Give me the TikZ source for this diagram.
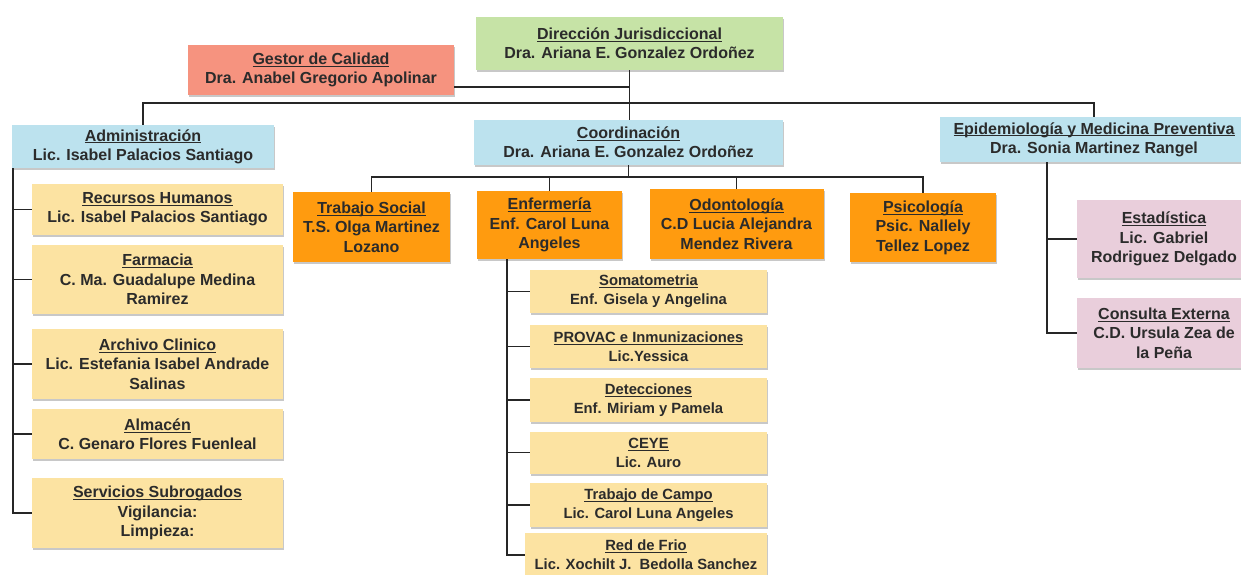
\documentclass[tikz,border=0pt]{standalone}
\usepackage{fontspec}
\setmainfont{Liberation Sans}
\usetikzlibrary{shadows,calc}
\definecolor{cgreen}{HTML}{C6E3A6}
\definecolor{csalmon}{HTML}{F6937F}
\definecolor{cblue}{HTML}{BCE2EE}
\definecolor{cyellow}{HTML}{FCE3A2}
\definecolor{corange}{HTML}{FF9B0F}
\definecolor{cpink}{HTML}{E9CEDB}
\definecolor{ctext}{HTML}{2B2B2B}
\definecolor{cline}{HTML}{262626}
\newcommand\ulin[1]{\leavevmode\setbox0\hbox{#1}\rlap{\rule[-2.3pt]{\wd0}{0.9pt}}\box0}
\tikzset{
  box/.style={rectangle, inner sep=0pt, align=center, text=ctext,
    font=\fontsize{16}{19.3}\selectfont\bfseries,
    drop shadow={shadow xshift=1.2pt, shadow yshift=-2.4pt, opacity=0.3, fill=black!70}},
  sbox/.style={box, font=\fontsize{14.8}{19}\selectfont\bfseries},
  wh/.style 2 args={minimum width=#1pt, minimum height=#2pt},
  conn/.style={draw=cline, line width=1.7pt}
}
\begin{document}
\begin{tikzpicture}[x=1pt,y=-1pt]
\fill[white] (0,0) rectangle (1241,574);
\useasboundingbox (0,0) rectangle (1241,574);
% top level
\node[box, fill=cgreen, wh={307}{53}] (dir) at (629.5,43.5) {\ulin{Dirección Jurisdiccional}\\Dra. Ariana E. Gonzalez Ordoñez};
\node[box, fill=csalmon, wh={266}{50}] (gest) at (321,70) {\ulin{Gestor de Calidad}\\Dra. Anabel Gregorio Apolinar};
% second level
\node[box, fill=cblue, wh={262}{43}] (adm) at (143,146.5) {\ulin{Administración}\\Lic. Isabel Palacios Santiago};
\node[box, fill=cblue, wh={309}{45}] (coord) at (628.5,142.5) {\ulin{Coordinación}\\Dra. Ariana E. Gonzalez Ordoñez};
\node[box, fill=cblue, wh={308}{45}] (epi) at (1094,139.5) {\ulin{Epidemiología y Medicina Preventiva}\\Dra. Sonia Martinez Rangel};
% administration children
\node[box, fill=cyellow, wh={251}{51}] (rh) at (157.5,209.5) {\ulin{Recursos Humanos}\\Lic. Isabel Palacios Santiago};
\node[box, fill=cyellow, wh={251}{69}] (farm) at (157.5,279.5) {\ulin{Farmacia}\\C. Ma. Guadalupe Medina\\Ramirez};
\node[box, fill=cyellow, wh={251}{70}] (arch) at (157.5,364) {\ulin{Archivo Clinico}\\Lic. Estefania Isabel Andrade\\Salinas};
\node[box, fill=cyellow, wh={251}{50}] (alm) at (157.5,434) {\ulin{Almacén}\\C. Genaro Flores Fuenleal};
\node[box, fill=cyellow, wh={251}{70}] (serv) at (157.5,513) {\ulin{Servicios Subrogados}\\Vigilancia:\\Limpieza:};
% coordination children
\node[box, fill=corange, wh={157}{70}] (ts) at (371.5,227) {\ulin{Trabajo Social}\\T.S. Olga Martinez\\Lozano};
\node[box, fill=corange, wh={145}{68}] (enf) at (549.5,225) {\ulin{Enfermería}\\Enf. Carol Luna\\Angeles};
\node[box, fill=corange, wh={174}{70}] (odo) at (736.5,224) {\ulin{Odontología}\\C.D Lucia Alejandra\\Mendez Rivera};
\node[box, fill=corange, wh={146}{69}] (psi) at (923,227.5) {\ulin{Psicología}\\Psic. Nallely\\Tellez Lopez};
% enfermeria children
\node[sbox, fill=cyellow, wh={237}{43}] (soma) at (648.5,291.5) {\ulin{Somatometria}\\Enf. Gisela y Angelina};
\node[sbox, fill=cyellow, wh={237}{43}] (provac) at (648.5,346.5) {\ulin{PROVAC e Inmunizaciones}\\Lic.Yessica};
\node[sbox, fill=cyellow, wh={237}{44}] (detec) at (648.5,400) {\ulin{Detecciones}\\Enf. Miriam y Pamela};
\node[sbox, fill=cyellow, wh={237}{42}] (ceye) at (648.5,452.5) {\ulin{CEYE}\\Lic. Auro};
\node[sbox, fill=cyellow, wh={237}{44}] (campo) at (648.5,505) {\ulin{Trabajo de Campo}\\Lic. Carol Luna Angeles};
\node[sbox, fill=cyellow, wh={242}{44}] (red) at (646,555) {\ulin{Red de Frio}\\Lic. Xochilt J.\ \ Bedolla Sanchez};
% epidemiology children
\node[box, fill=cpink, wh={174}{78}] (est) at (1164,239) {\ulin{Estadística}\\Lic. Gabriel\\Rodriguez Delgado};
\node[box, fill=cpink, wh={174}{70}] (cons) at (1164,333) {\ulin{Consulta Externa}\\C.D. Ursula Zea de\\la Peña};
% connectors: top
\coordinate (bus) at (629,103);
\draw[conn] (dir.south) -- (dir.south |- coord.north);
\draw[conn] ([yshift=-17pt]gest.east) -- ([yshift=-17pt]gest.east -| dir.south);
\draw[conn] (adm.north) |- (bus) -| (epi.north);
% administration
\coordinate (av) at ([xshift=1pt]adm.south west);
\draw[conn] (av) |- (serv.west);
\foreach \n in {rh,farm,arch,alm} \draw[conn] (\n.west) -- (\n.west -| av);
% coordination
\coordinate (cb) at (629,177);
\draw[conn] (coord.south) -- (coord.south |- cb);
\draw[conn] (ts.north) |- (cb) -| (psi.north);
\draw[conn] (enf.north) -- (enf.north |- cb);
\draw[conn] (odo.north) -- (odo.north |- cb);
% enfermeria
\coordinate (ev) at ([xshift=30pt]enf.south west);
\draw[conn] (ev) |- (red.west);
\foreach \n in {soma,provac,detec,ceye,campo} \draw[conn] (\n.west) -- (\n.west -| ev);
% epidemiology
\coordinate (epv) at ([xshift=107pt]epi.south west);
\draw[conn] (epv) |- (cons.west);
\draw[conn] (est.west) -- (est.west -| epv);
\end{tikzpicture}
\end{document}
